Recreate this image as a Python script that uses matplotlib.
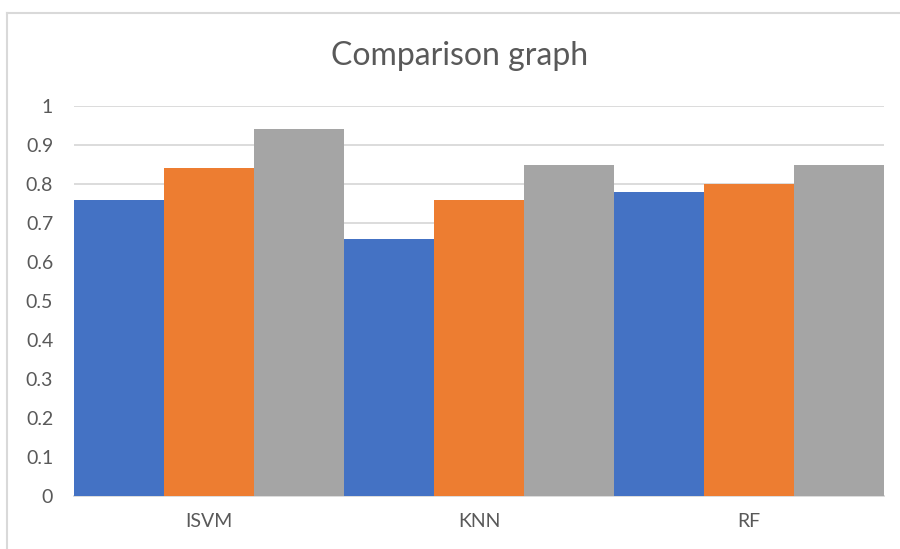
import matplotlib
matplotlib.use('Agg')
import matplotlib.pyplot as plt
import numpy as np
from matplotlib.lines import Line2D

# ==========================================
# data
# ==========================================
categories = ['ISVM', 'KNN', 'RF']
series_1 = [0.76, 0.66, 0.78]
series_2 = [0.84, 0.76, 0.80]
series_3 = [0.94, 0.85, 0.85]
y_ticks = [0, 0.1, 0.2, 0.3, 0.4, 0.5, 0.6, 0.7, 0.8, 0.9, 1]
y_tick_labels = ['0', '0.1', '0.2', '0.3', '0.4', '0.5', '0.6', '0.7', '0.8', '0.9', '1']

colors = ['#4472C4', '#ED7D31', '#A5A5A5']
text_color = '#595959'

plt.rcParams['font.family'] = ['Lato', 'DejaVu Sans']

fig = plt.figure(figsize=(9, 5.49), dpi=100)
ax = fig.add_axes([74 / 900, 1 - 496 / 549, (884 - 74) / 900, (496 - 106) / 549])

x = np.arange(len(categories))
w = 1 / 3
for i, vals in enumerate([series_1, series_2, series_3]):
    ax.bar(x + (i - 1) * w, vals, width=w, color=colors[i], zorder=3)

ax.set_xlim(-0.5, len(categories) - 0.5)
ax.set_ylim(0, 1)
ax.set_yticks(y_ticks)
ax.set_yticklabels(y_tick_labels)
ax.set_xticks(x)
ax.set_xticklabels(categories)
ax.grid(axis='y', color='#D9D9D9', linewidth=1.3, zorder=0)
ax.set_axisbelow(True)

for side in ['top', 'right', 'left']:
    ax.spines[side].set_visible(False)
ax.spines['bottom'].set_color('#D9D9D9')
ax.spines['bottom'].set_linewidth(1.3)

ax.tick_params(axis='y', length=0, pad=15, labelsize=14, labelcolor=text_color)
ax.tick_params(axis='x', length=0, pad=12, labelsize=14, labelcolor=text_color)

fig.text(460 / 900, 1 - 56 / 549, 'Comparison graph', ha='center', va='center',
         fontsize=23, color=text_color)

# chart border (only top and left visible in the crop)
fig.add_artist(Line2D([7 / 900, 1], [1 - 13 / 549, 1 - 13 / 549], color='#D9D9D9', linewidth=1.5, transform=fig.transFigure))
fig.add_artist(Line2D([7 / 900, 7 / 900], [0, 1 - 13 / 549], color='#D9D9D9', linewidth=1.5, transform=fig.transFigure))

fig.savefig('out.png', dpi=100)
